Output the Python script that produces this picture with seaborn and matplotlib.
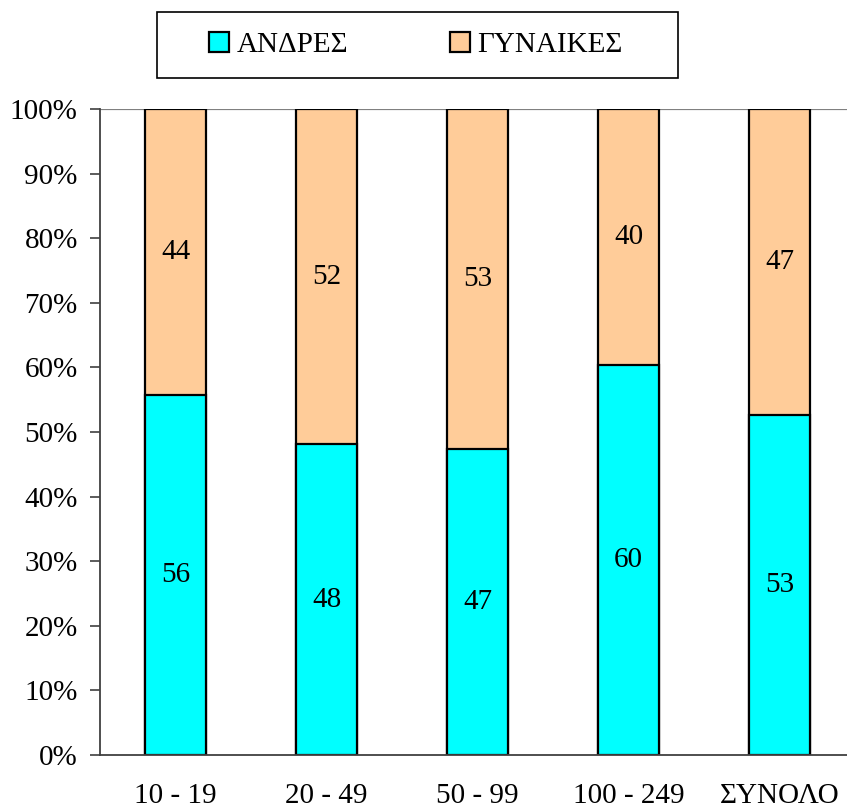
import matplotlib
matplotlib.use("Agg")
import matplotlib.pyplot as plt
from matplotlib.patches import Patch, Rectangle
import seaborn as sns
import pandas as pd

categories = ["10 - 19", "20 - 49", "50 - 99", "100 - 249", "ΣΥΝΟΛΟ"]
men = [55.8, 48.1, 47.3, 60.3, 52.7]
women = [44.2, 51.9, 52.7, 39.7, 47.3]
series_names = ["ΑΝΔΡΕΣ", "ΓΥΝΑΙΚΕΣ"]
yticks = [0, 10, 20, 30, 40, 50, 60, 70, 80, 90, 100]

CYAN = "#00FFFF"
PEACH = "#FFCC99"

sns.set_style("white")
plt.rcParams["font.family"] = ["Liberation Serif", "DejaVu Serif"]
plt.rcParams["text.color"] = "black"
plt.rcParams["xtick.color"] = "black"
plt.rcParams["ytick.color"] = "black"
plt.rcParams["axes.labelcolor"] = "black"
FS = 21

df = pd.DataFrame({"cat": categories, "men": men, "women": women})
df["total"] = df["men"] + df["women"]

fig = plt.figure(figsize=(8.47, 8.09), dpi=100)
ax = fig.add_axes([100 / 847, 1 - 755 / 809, 755 / 847, 646 / 809])

sns.barplot(data=df, x="cat", y="total", color=PEACH, width=0.41,
            edgecolor="black", linewidth=1.6, saturation=1, ax=ax)
sns.barplot(data=df, x="cat", y="men", color=CYAN, width=0.41,
            edgecolor="black", linewidth=1.6, saturation=1, ax=ax)

ax.set_xlim(-0.5, 4.5)
ax.set_ylim(0, 100)
ax.axhline(100, color="#808080", linewidth=1.6, zorder=0)

# value labels
n = len(categories)
patches = ax.patches
for i in range(n):
    p_men = patches[n + i]
    xc = p_men.get_x() + p_men.get_width() / 2
    ax.text(xc, men[i] / 2, f"{round(men[i])}", ha="center", va="center",
            fontsize=FS, color="black")
    ax.text(xc, men[i] + women[i] / 2, f"{round(women[i])}", ha="center", va="center",
            fontsize=FS, color="black")

ax.set_yticks(yticks)
ax.set_yticklabels([f"{v}%" for v in yticks], fontsize=FS, color="black")
ax.set_xticks(range(n))
ax.set_xticklabels(categories, fontsize=FS, color="black")
ax.set_xticks([i - 0.5 for i in range(n + 1)], minor=True)
ax.tick_params(axis="x", which="major", length=0, pad=20, labelcolor="black")
ax.tick_params(axis="x", which="minor", length=7, width=1.2, color="#404040", direction="out")
ax.tick_params(axis="y", which="major", length=7, width=1.2, color="#404040", direction="out",
               pad=9, left=True, labelcolor="black")
ax.set_xlabel("")
ax.set_ylabel("")

for s in ["top", "right"]:
    ax.spines[s].set_visible(False)
for s in ["left", "bottom"]:
    ax.spines[s].set_color("#404040")
    ax.spines[s].set_linewidth(1.3)

# legend box
fig.patches.append(Rectangle((157 / 847, 1 - 78 / 809), (678 - 157) / 847, (78 - 12) / 809,
                             transform=fig.transFigure, facecolor="white",
                             edgecolor="black", linewidth=1.2, zorder=1))
handles = [Patch(facecolor=CYAN, edgecolor="black", linewidth=1.6),
           Patch(facecolor=PEACH, edgecolor="black", linewidth=1.6)]
leg = fig.legend(handles, series_names, loc="center", bbox_to_anchor=(416 / 847, 1 - 45 / 809),
                 ncol=2, frameon=False, fontsize=FS, handlelength=0.68, handleheight=0.68,
                 handletextpad=0.25, columnspacing=3.5, labelcolor="black")
leg.set_zorder(2)

fig.savefig("out.png", dpi=100)
